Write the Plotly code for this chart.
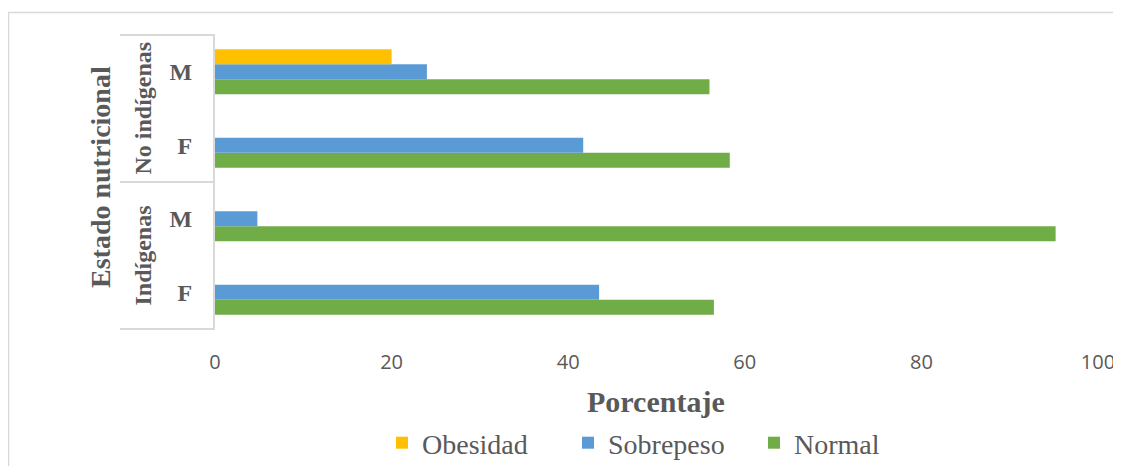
import plotly.graph_objects as go

categories = ["Indígenas F", "Indígenas M", "No indígenas F", "No indígenas M"]
sub_labels = ["F", "M", "F", "M"]
groups = ["Indígenas", "No indígenas"]
normal = [56.5, 95.2, 58.3, 56.0]
sobrepeso = [43.5, 4.8, 41.7, 24.0]
obesidad = [None, None, None, 20.0]
x_ticks = [0, 20, 40, 60, 80, 100]

W, H = 1121, 466
OFF = 8  # page body margin
# plot area in page pixels
L, R, T, B = 215, 1098, 35, 329
pw, ph = R - L, B - T


def px(x):
    return (x - L) / pw


def py(y):
    return (B - y) / ph


def cx(x):
    return (x - OFF) / W


def cy(y):
    return 1 - (y - OFF) / H


serif = "Liberation Serif, Times New Roman, serif"
grey = "#595959"

fig = go.Figure()
fig.add_trace(go.Bar(y=categories, x=normal, name="Normal", orientation="h",
                     marker=dict(color="#70AD47", line=dict(width=0))))
fig.add_trace(go.Bar(y=categories, x=sobrepeso, name="Sobrepeso", orientation="h",
                     marker=dict(color="#5B9BD5", line=dict(width=0))))
fig.add_trace(go.Bar(y=categories, x=obesidad, name="Obesidad", orientation="h",
                     marker=dict(color="#FFC000", line=dict(width=0))))

fig.update_layout(
    width=W, height=H,
    margin=dict(l=L - OFF, r=W - (R - OFF), t=T - OFF, b=H - (B - OFF), autoexpand=False),
    paper_bgcolor="white", plot_bgcolor="white",
    barmode="group", bargap=0.386, bargroupgap=0,
    showlegend=True,
    legend=dict(orientation="h", traceorder="reversed",
                xref="container", yref="container",
                x=cx(382), xanchor="left", y=cy(443), yanchor="middle",
                font=dict(family=serif, size=28, color=grey),
                entrywidth=141, entrywidthmode="pixels", itemwidth=30),
    xaxis=dict(range=[0, 100], tickvals=x_ticks, showgrid=False, zeroline=False,
               showline=False, ticks="", ticklabelstandoff=19,
               tickfont=dict(family="Open Sans, sans-serif", size=20, color=grey)),
    yaxis=dict(categoryorder="array", categoryarray=categories,
               tickvals=categories, ticktext=sub_labels,
               range=[-0.5, 3.5], showgrid=False, zeroline=False,
               showline=True, linecolor="#D9D9D9", linewidth=2,
               ticks="", ticklabelstandoff=16,
               tickfont=dict(family=serif, size=24, color=grey, weight="bold")),
)

annotations = [
    dict(text="Porcentaje", x=px(656), y=py(401), xref="paper", yref="paper",
         showarrow=False, xanchor="center", yanchor="middle",
         font=dict(family=serif, size=30, color=grey, weight="bold")),
    dict(text="Estado nutricional", x=px(100), y=py(177), xref="paper", yref="paper",
         showarrow=False, textangle=-90, xanchor="center", yanchor="middle",
         font=dict(family=serif, size=28, color=grey, weight="bold")),
    dict(text=groups[1], x=px(142), y=0.75, xref="paper", yref="paper",
         showarrow=False, textangle=-90, xanchor="center", yanchor="middle",
         font=dict(family=serif, size=24, color=grey, weight="bold")),
    dict(text=groups[0], x=px(142), y=0.25, xref="paper", yref="paper",
         showarrow=False, textangle=-90, xanchor="center", yanchor="middle",
         font=dict(family=serif, size=24, color=grey, weight="bold")),
]
fig.update_layout(annotations=annotations)

line_style = dict(color="#D9D9D9", width=2)
shapes = []
for yy in [1.0, 0.5, 0.0]:
    shapes.append(dict(type="line", xref="paper", yref="paper",
                       x0=px(120), x1=0, y0=yy, y1=yy, line=line_style))
shapes.append(dict(type="rect", xref="paper", yref="paper",
                   x0=px(8.5), x1=px(1140), y0=py(12.5), y1=py(490),
                   line=dict(color="#D9D9D9", width=1.5), fillcolor="rgba(0,0,0,0)"))
fig.update_layout(shapes=shapes)

fig.write_html("out.html")
